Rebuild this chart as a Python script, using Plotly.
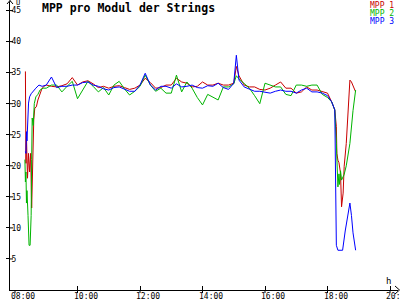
import plotly.graph_objects as go

def hm(s):
    h, m = s.split(":")
    return int(h) + int(m) / 60.0

# ---------------- data ----------------
mid_times = ["09:00", "09:10", "09:20", "09:30", "09:40", "09:50", "10:00", "10:10", "10:20", "10:30",
             "10:40", "10:50", "11:00", "11:10", "11:20", "11:30", "11:40", "11:50", "12:00", "12:10",
             "12:20", "12:30", "12:40", "12:50", "13:00", "13:10", "13:20", "13:30", "13:40", "13:50",
             "14:00", "14:10", "14:20", "14:30", "14:40", "14:50", "15:00", "15:05", "15:10", "15:20",
             "15:30", "15:40", "15:50", "16:00", "16:10", "16:20", "16:30", "16:40", "16:50", "17:00",
             "17:10", "17:20", "17:30", "17:40", "17:50", "18:00", "18:08"]

mpp1_mid = [33.0, 32.8, 32.7, 32.9, 33.2, 34.2, 33.0, 33.5, 33.7, 33.2,
            32.6, 32.8, 32.5, 32.8, 32.9, 32.6, 32.3, 32.5, 33.0, 34.1,
            33.4, 32.5, 32.6, 33.0, 33.0, 34.1, 33.5, 33.3, 32.7, 32.8,
            33.5, 33.0, 33.0, 33.3, 33.0, 33.0, 33.3, 36.0, 34.5, 33.0,
            32.7, 32.7, 32.3, 32.2, 32.5, 33.0, 33.5, 32.5, 32.5, 31.7,
            31.9, 32.7, 32.2, 32.2, 31.9, 31.7, 30.3]
mpp2_mid = [32.5, 33.0, 33.0, 31.9, 32.8, 33.6, 30.8, 32.2, 33.6, 32.8,
            31.9, 32.6, 31.4, 33.0, 33.6, 32.4, 31.4, 32.0, 32.8, 34.6,
            33.0, 32.0, 32.5, 31.7, 31.7, 34.6, 31.9, 33.5, 32.5, 31.0,
            29.8, 31.5, 31.0, 30.6, 32.7, 32.7, 33.2, 34.5, 34.0, 33.3,
            32.5, 31.3, 30.0, 33.3, 33.0, 32.7, 32.7, 31.5, 31.3, 33.0,
            33.0, 32.8, 33.0, 33.0, 31.5, 31.0, 30.3]
mpp3_mid = [33.0, 34.3, 32.6, 32.8, 32.8, 33.0, 33.0, 33.4, 33.5, 33.0,
            32.8, 32.4, 32.2, 32.6, 32.7, 32.4, 32.0, 32.0, 33.0, 34.9,
            33.0, 32.2, 32.8, 32.8, 32.5, 33.2, 32.7, 32.8, 33.0, 32.6,
            32.5, 32.9, 32.8, 33.3, 32.6, 32.3, 33.3, 37.8, 33.8, 32.7,
            32.3, 32.0, 32.0, 31.8, 31.7, 32.0, 32.2, 32.0, 32.0, 31.7,
            32.2, 32.5, 31.9, 31.9, 31.7, 31.3, 30.3]

mpp1_start_t = ["08:20", "08:21", "08:22", "08:24", "08:26", "08:28", "08:30", "08:32", "08:34", "08:36",
                "08:38", "08:41", "08:44", "08:48", "08:52", "08:56"]
mpp1_start_v = [35.2, 20.4, 24.7, 18.0, 22.0, 19.0, 22.0, 13.2, 23.6, 27.4,
                29.3, 29.5, 30.6, 31.5, 32.5, 32.8]
mpp2_start_t = ["08:19", "08:20", "08:21", "08:22", "08:23", "08:25", "08:27", "08:29", "08:30", "08:31",
                "08:32", "08:33", "08:35", "08:37", "08:40", "08:44", "08:48", "08:54"]
mpp2_start_v = [21.0, 17.4, 19.0, 14.0, 16.0, 12.0, 7.2, 7.2, 9.0, 12.0,
                21.0, 27.7, 26.5, 30.0, 31.1, 31.5, 32.2, 32.5]
mpp3_start_t = ["08:20", "08:21", "08:22", "08:23", "08:26", "08:28", "08:31", "08:36", "08:40", "08:46",
                "08:52"]
mpp3_start_v = [22.3, 22.0, 25.5, 24.0, 30.1, 31.1, 31.6, 32.2, 32.5, 33.0,
                32.8]

mpp1_end_t = ["18:14", "18:17", "18:18", "18:20", "18:22", "18:25", "18:27", "18:30", "18:32", "18:36",
              "18:39", "18:43", "18:46", "18:49", "18:54"]
mpp1_end_v = [29.0, 26.3, 22.0, 20.9, 20.5, 18.8, 13.4, 15.6, 19.9, 23.6,
              28.9, 33.8, 33.5, 33.0, 31.9]
mpp2_end_t = ["18:14", "18:17", "18:19", "18:20", "18:22", "18:23", "18:25", "18:27", "18:32", "18:36",
              "18:43", "18:46", "18:49", "18:54"]
mpp2_end_v = [29.0, 23.6, 19.8, 16.6, 18.7, 17.0, 19.2, 17.7, 18.6, 20.0,
              23.6, 26.3, 28.9, 32.2]
mpp3_end_t = ["18:14", "18:15", "18:17", "18:20", "18:29", "18:34", "18:38", "18:43", "18:46", "18:49",
              "18:54"]
mpp3_end_v = [29.0, 19.3, 7.2, 6.4, 6.4, 9.5, 11.8, 14.0, 12.0, 9.2,
              6.4]

series_names = ["MPP 1", "MPP 2", "MPP 3"]
series_colors = ["#c80000", "#00b400", "#0000ff"]

x_tickvals = [8, 10, 12, 14, 16, 18, 20]
x_ticktext = ["08:00", "10:00", "12:00", "14:00", "16:00", "18:00", "20:00"]
y_tickvals = [5, 10, 15, 20, 25, 30, 35, 40, 45]

# ---------------- figure ----------------
W, H = 400, 300
ML, MR, MT, MB = 10, 2, 2, 10
PW, PH = W - ML - MR, H - MT - MB
X0 = 7.84
XSCALE = 31.25

def px(x):
    return (x - ML) / PW

def py(y):
    return (H - MB - y) / PH

FONT = "DejaVu Sans Mono"

fig = go.Figure()
data = [
    (mpp1_start_t + mid_times + mpp1_end_t, mpp1_start_v + mpp1_mid + mpp1_end_v),
    (mpp2_start_t + mid_times + mpp2_end_t, mpp2_start_v + mpp2_mid + mpp2_end_v),
    (mpp3_start_t + mid_times + mpp3_end_t, mpp3_start_v + mpp3_mid + mpp3_end_v),
]
for (t, v), name, col in zip(data, series_names, series_colors):
    fig.add_trace(go.Scatter(x=[hm(s) for s in t], y=v, mode="lines", name=name,
                             line=dict(color=col, width=1)))

fig.update_layout(
    width=W, height=H, margin=dict(l=ML, r=MR, t=MT, b=MB),
    paper_bgcolor="white", plot_bgcolor="white", showlegend=False,
    xaxis=dict(range=[X0, X0 + PW / XSCALE], tickvals=x_tickvals, ticktext=x_ticktext,
               ticks="inside", ticklen=4, tickcolor="black", showline=True, linecolor="black",
               linewidth=1, showgrid=False, zeroline=False, automargin=False,
               showticklabels=False),
    yaxis=dict(range=[0, PH / 6.21], tickvals=y_tickvals, ticks="outside", ticklen=3,
               tickcolor="black", showline=True, linecolor="black", linewidth=1,
               showgrid=False, zeroline=False, automargin=False, ticklabelposition="inside",
               tickfont=dict(family=FONT, size=8, color="black")),
)

shapes = []
# crossing parts of ticks
for tv in x_tickvals:
    shapes.append(dict(type="line", xref="x", yref="paper", x0=tv, x1=tv, y0=0, y1=-3 / PH,
                       line=dict(color="black", width=1)))
for tv in y_tickvals:
    shapes.append(dict(type="line", xref="paper", yref="y", x0=0, x1=3 / PW, y0=tv, y1=tv,
                       line=dict(color="black", width=1)))
# axis arrows
shapes.append(dict(type="path", xref="paper", yref="paper",
                   path=f"M {px(7)} {py(4)} L {px(10)} {py(0.5)} L {px(13)} {py(4)}",
                   line=dict(color="black", width=1)))
shapes.append(dict(type="line", xref="paper", yref="paper", x0=px(10), x1=px(10), y0=py(2), y1=py(0.5),
                   line=dict(color="black", width=1)))
shapes.append(dict(type="path", xref="paper", yref="paper",
                   path=f"M {px(395)} {py(286)} L {px(399.5)} {py(290)} L {px(395)} {py(294)}",
                   line=dict(color="black", width=1)))
fig.update_layout(shapes=shapes)

ann = []
# x tick labels (slightly right of each tick, partly cut by the bottom edge as in the original)
for tv, tt in zip(x_tickvals, x_ticktext):
    ann.append(dict(text=tt, xref="x", yref="paper", x=tv, y=py(296.5), xanchor="center",
                    yanchor="middle", xshift=8, showarrow=False,
                    font=dict(family=FONT, size=8, color="black")))
ann.append(dict(text="<b>MPP pro Modul der Strings</b>", xref="paper", yref="paper",
                x=px(40), y=py(8), xanchor="left", yanchor="middle", showarrow=False,
                font=dict(family=FONT, size=11.5, color="black")))
ann.append(dict(text="U", xref="paper", yref="paper", x=px(14), y=py(3), xanchor="left",
                yanchor="middle", showarrow=False, font=dict(family=FONT, size=7, color="black")))
ann.append(dict(text="h", xref="paper", yref="paper", x=px(388), y=py(281), xanchor="center",
                yanchor="middle", showarrow=False, font=dict(family=FONT, size=9, color="black")))
for i, (name, col) in enumerate(zip(series_names, series_colors)):
    ann.append(dict(text=name, xref="paper", yref="paper", x=px(396), y=py(6 + 8 * i),
                    xanchor="right", yanchor="middle", showarrow=False,
                    font=dict(family=FONT, size=8, color=col)))
fig.update_layout(annotations=ann)

fig.write_html("out.html")
